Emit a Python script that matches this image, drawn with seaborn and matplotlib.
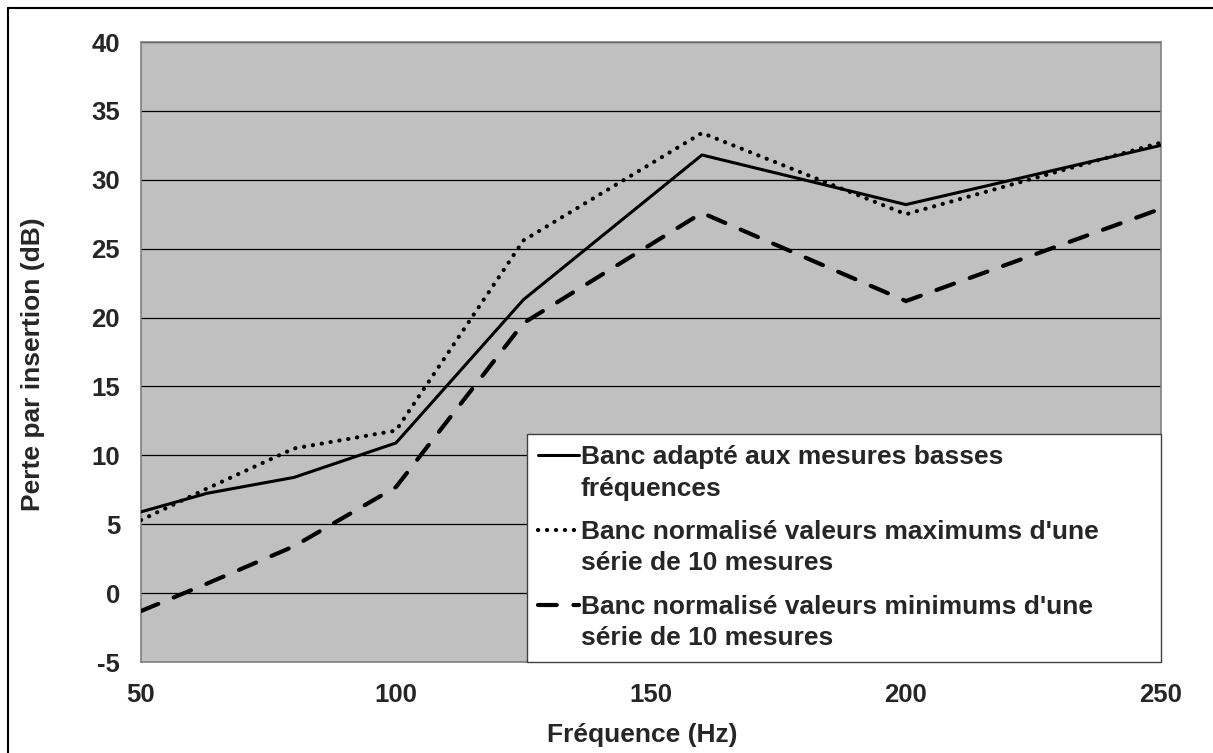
import matplotlib
matplotlib.use("Agg")
import matplotlib.pyplot as plt
import seaborn as sns
import pandas as pd
from matplotlib.lines import Line2D

sns.set_style("white")
plt.rcParams['font.family'] = ['Liberation Sans', 'DejaVu Sans']
plt.rcParams['font.weight'] = 'bold'
plt.rcParams['axes.unicode_minus'] = False

# Données
frequences = [50, 63, 80, 100, 125, 160, 200, 250]
banc_bf = [5.9, 7.25, 8.4, 10.9, 21.3, 31.8, 28.2, 32.5]
norm_max = [5.3, 7.6, 10.5, 11.8, 25.6, 33.4, 27.5, 32.7]
norm_min = [-1.3, 0.7, 3.4, 7.7, 19.6, 27.6, 21.2, 27.9]

lbl_bf = "Banc adapté aux mesures basses\nfréquences"
lbl_max = "Banc normalisé valeurs maximums d'une\nsérie de 10 mesures"
lbl_min = "Banc normalisé valeurs minimums d'une\nsérie de 10 mesures"

fig = plt.figure(figsize=(12.13, 7.53), dpi=100)
ax = fig.add_axes([0.1162, 0.1208, 0.8409, 0.8234])
ax.set_facecolor('#C0C0C0')

df_bf = pd.DataFrame({'f': frequences, 'v': banc_bf})
df_max = pd.DataFrame({'f': frequences, 'v': norm_max})
df_min = pd.DataFrame({'f': frequences, 'v': norm_min})

sns.lineplot(data=df_bf, x='f', y='v', ax=ax, color='black', lw=2.2,
             label=lbl_bf, zorder=3)
sns.lineplot(data=df_max, x='f', y='v', ax=ax, color='black', lw=3.0,
             linestyle=(0, (0.05, 2.1)), dash_capstyle='round',
             label=lbl_max, zorder=3)
sns.lineplot(data=df_min, x='f', y='v', ax=ax, color='black', lw=3.0,
             linestyle=(0, (4.5, 4)), dash_capstyle='round',
             label=lbl_min, zorder=3)

ax.set_xlim(50, 250)
ax.set_ylim(-5, 40)
ax.set_xticks(range(50, 251, 50))
ax.set_yticks(range(-5, 41, 5))
ax.yaxis.grid(True, color='black', lw=0.9)
ax.set_axisbelow(True)
for s in ax.spines.values():
    s.set_color('#808080')
    s.set_linewidth(1.2)
ax.tick_params(axis='both', direction='out', length=6, width=1.0,
               color='#606060', labelsize=18.5, pad=9)
for t in ax.get_xticklabels() + ax.get_yticklabels():
    t.set_fontweight('bold')

ax.set_xlabel('Fréquence (Hz)', fontsize=19, fontweight='bold')
ax.set_ylabel('Perte par insertion (dB)', fontsize=19, fontweight='bold')
ax.xaxis.set_label_coords(0.491, -0.099)
ax.yaxis.set_label_coords(-0.094, 0.481)

leg = ax.legend(loc='lower left', bbox_to_anchor=(0.378, 0.0, 0.622, 0.374),
                mode='expand', borderaxespad=0, frameon=True, fancybox=False,
                framealpha=1, edgecolor='#404040', facecolor='white',
                prop={'size': 19, 'weight': 'bold'}, handlelength=1.55,
                handletextpad=0.05, labelspacing=0.75, borderpad=0.45)
leg.get_frame().set_linewidth(1.0)
for t in leg.get_texts():
    t.set_linespacing(1.37)
for ln in leg.get_lines():
    ln.set_ydata([y + 13.2 for y in ln.get_ydata()])

# cadre extérieur (haut et gauche)
fig.add_artist(Line2D([0.0066, 1.0], [0.989, 0.989], transform=fig.transFigure,
                      color='black', lw=1.5))
fig.add_artist(Line2D([0.0066, 0.0066], [0.0, 0.989], transform=fig.transFigure,
                      color='black', lw=1.5))

fig.savefig('out.png', dpi=100, facecolor='white')
